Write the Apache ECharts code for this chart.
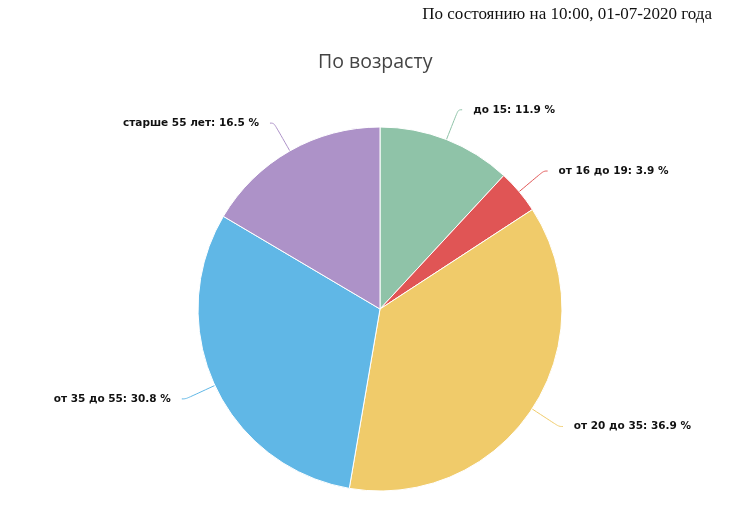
<!DOCTYPE html>
<html><head><meta charset="utf-8">
<script src="https://cdn.jsdelivr.net/npm/echarts@6/dist/echarts.min.js"></script>
<style>html,body{margin:0;padding:0;background:#fff}#c{width:730px;height:505px}</style>
</head><body><div id="c"></div>
<script>
const categories = ['до 15', 'от 16 до 19', 'от 20 до 35', 'от 35 до 55', 'старше 55 лет'];
const values = [11.9, 3.9, 36.9, 30.8, 16.5];
const colors = ['#8fc3a8', '#e05555', '#f0cb6a', '#60b7e6', '#ad92c8'];

const chart = echarts.init(document.getElementById('c'));
chart.setOption({
  animation: false,
  title: {
    text: 'По возрасту', left: 313, top: 47,
    textStyle: { fontFamily: 'Open Sans', fontSize: 19.5, fontWeight: 'normal', color: '#444' }
  },
  graphic: [{
    type: 'text', right: 18, top: 6,
    style: { text: 'По состоянию на 10:00, 01-07-2020 года', font: '17px "Liberation Serif"', fill: '#111' }
  }],
  series: [{
    type: 'pie',
    center: [380, 309],
    radius: 182,
    startAngle: 90,
    clockwise: true,
    itemStyle: { borderColor: '#fff', borderWidth: 1 },
    label: {
      formatter: '{b}: {c} %',
      fontFamily: 'DejaVu Sans', fontWeight: 'bold', fontSize: 10.5, color: '#111',
      distanceToLabelLine: 11
    },
    labelLine: { length: 32, length2: 4, smooth: 0.4, lineStyle: { width: 1 } },
    data: categories.map((n, i) => ({ name: n, value: values[i], itemStyle: { color: colors[i] } }))
  }]
});
</script></body></html>
